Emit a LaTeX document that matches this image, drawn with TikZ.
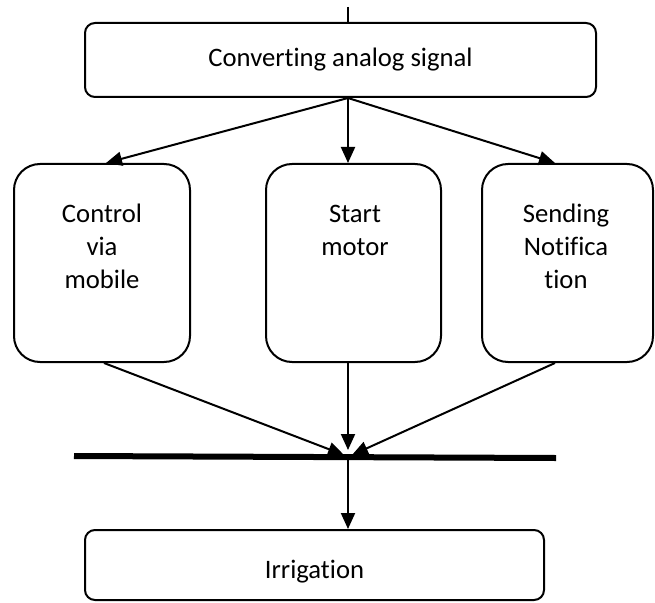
\documentclass[tikz,border=0pt]{standalone}
\usepackage{fontspec}
\setmainfont[Ligatures=NoCommon]{Carlito}
\usetikzlibrary{arrows.meta}
\tikzset{
  box/.style={draw, line width=1.5pt, rounded corners=7.5pt, inner sep=0pt,
              font=\fontsize{20}{24.75}\selectfont},
  tall box/.style={box, rounded corners=19.5pt, minimum height=148.5pt},
  box text/.style={align=center, inner sep=0pt, font=\fontsize{20}{24.75}\selectfont},
  arr/.style={line width=1.5pt, -{Triangle[length=12pt,width=10.5pt]}},
  join bar/.style={line width=4.5pt}
}
\begin{document}
\begin{tikzpicture}[x=0.75pt,y=-0.75pt]
\useasboundingbox (0,0) rectangle (655,602);
% boxes
\node[box, minimum width=383.25pt, minimum height=55.5pt] (conv) at (340.5,60) {Converting analog signal};
\node[tall box, minimum width=132pt] (ctrl) at (102,263) {};
\node[tall box, minimum width=131.25pt] (mot) at (353.5,263) {};
\node[tall box, minimum width=128.25pt] (note) at (567.5,263) {};
\node[box, minimum width=344.25pt, minimum height=52.5pt, text height=24pt] (irr) at (314.5,565) {Irrigation};
% texts in the tall boxes
\node[box text] (ctrltxt) at (102,246) {Control\\via\\mobile};
\node[box text] (mottxt) at (355,230) {Start\\motor};
\node[box text] (notetxt) at (566,246) {Sending\\Notifica\\tion};
% points
\coordinate (in) at (348,7);
\coordinate (split) at (conv.south -| in);
\coordinate (join) at (348,457);
\coordinate (barL) at (74,456);
\coordinate (barR) at (556,458);
\coordinate (hitL) at (344,455);
\coordinate (hitM) at (348,450);
\coordinate (hitR) at (352,455);
% connectors
\draw[line width=1.5pt] (in) -- (split |- conv.north);
\draw[arr] (split) -- ([xshift=3pt]ctrl.north);
\draw[arr] (split) -- (split |- mot.north);
\draw[arr] (split) -- ([xshift=-9.4pt]note.north);
\draw[arr] ([xshift=1.5pt]ctrl.south) -- (hitL);
\draw[arr] (hitM |- mot.south) -- (hitM);
\draw[arr] ([xshift=-9.4pt]note.south) -- (hitR);
\draw[join bar] (barL) -- (barR);
\draw[arr] (join) -- (join |- irr.north);
\end{tikzpicture}
\end{document}
